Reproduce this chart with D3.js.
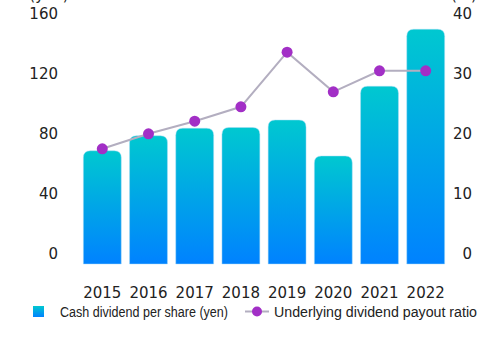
<!DOCTYPE html>
<html>
<head>
<meta charset="utf-8">
<script src="https://cdn.jsdelivr.net/npm/d3@7.9.0/dist/d3.min.js"></script>
<style>
  html, body { margin: 0; padding: 0; background: #fff; }
  svg { display: block; }
  .tick-label { font-family: "DejaVu Sans", sans-serif; font-size: 15px; fill: #222; }
  .legend-label { font-family: "Liberation Sans", sans-serif; font-size: 14px; fill: #222; }
</style>
</head>
<body>
<svg id="chart" width="502" height="339"></svg>
<script>
// Data
const years = ['2015', '2016', '2017', '2018', '2019', '2020', '2021', '2022'];
const dividend = [75.5, 85.5, 90.5, 91, 96, 72, 118.5, 156.5];   // yen
const payout = [19.2, 21.7, 23.8, 26.2, 35.3, 28.7, 32.2, 32.2];  // %
const leftTicks = [0, 40, 80, 120, 160];
const rightTicks = [0, 10, 20, 30, 40];

const svg = d3.select('#chart');

// gradient for bars
const defs = svg.append('defs');
const grad = defs.append('linearGradient')
  .attr('id', 'barGrad')
  .attr('x1', 0).attr('y1', 0).attr('x2', 0).attr('y2', 1);
grad.append('stop').attr('offset', '0%').attr('stop-color', '#00c8d0');
grad.append('stop').attr('offset', '100%').attr('stop-color', '#0082ff');

// scales
const x = d3.scaleBand()
  .domain(years)
  .range([79.2, 448.8])
  .paddingInner(0.18)
  .paddingOuter(0.09);

const y = d3.scaleLinear().domain([0, 160]).range([264, 24]);
const y2 = d3.scaleLinear().domain([0, 40]).range([264, 24]);

// bars with rounded tops
function topRounded(x0, y0, w, h, r) {
  r = Math.min(r, h, w / 2);
  return `M${x0},${y0 + h}V${y0 + r}Q${x0},${y0} ${x0 + r},${y0}` +
         `H${x0 + w - r}Q${x0 + w},${y0} ${x0 + w},${y0 + r}V${y0 + h}Z`;
}

svg.append('g')
  .selectAll('path')
  .data(dividend)
  .join('path')
  .attr('d', (d, i) => topRounded(x(years[i]), y(d), x.bandwidth(), y(0) - y(d), 7))
  .attr('fill', 'url(#barGrad)')
  .attr('stroke', '#a8dcf4')
  .attr('stroke-opacity', 0.6)
  .attr('stroke-width', 0.8);

// payout line
const cx = (i) => x(years[i]) + x.bandwidth() / 2;
const line = d3.line()
  .x((d, i) => cx(i))
  .y((d) => y2(d));

svg.append('path')
  .datum(payout)
  .attr('d', line)
  .attr('fill', 'none')
  .attr('stroke', '#b3aec0')
  .attr('stroke-width', 2);

svg.append('g')
  .selectAll('circle')
  .data(payout)
  .join('circle')
  .attr('cx', (d, i) => cx(i))
  .attr('cy', (d) => y2(d))
  .attr('r', 5.5)
  .attr('fill', '#a22fc6');

// left axis labels (sit a bit above their values)
svg.append('g')
  .selectAll('text')
  .data(leftTicks)
  .join('text')
  .attr('class', 'tick-label')
  .attr('x', 58)
  .attr('y', (d) => y(d) - 10)
  .attr('dy', '0.35em')
  .attr('text-anchor', 'end')
  .text((d) => d);

// right axis labels
svg.append('g')
  .selectAll('text')
  .data(rightTicks)
  .join('text')
  .attr('class', 'tick-label')
  .attr('x', 472)
  .attr('y', (d) => y2(d) - 10)
  .attr('dy', '0.35em')
  .attr('text-anchor', 'end')
  .text((d) => d);

// unit labels, partly above the top edge as in the original
svg.append('text').attr('class', 'tick-label')
  .attr('x', 49).attr('y', 0).attr('text-anchor', 'middle').text('(yen)');
svg.append('text').attr('class', 'tick-label')
  .attr('x', 464).attr('y', 0).attr('text-anchor', 'middle').text('(%)');

// x labels
svg.append('g')
  .selectAll('text')
  .data(years)
  .join('text')
  .attr('class', 'tick-label')
  .attr('x', (d) => x(d) + x.bandwidth() / 2)
  .attr('y', 293)
  .attr('dy', '0.35em')
  .attr('text-anchor', 'middle')
  .text((d) => d);

// legend (condensed type, squeezed to width)
const legend = svg.append('g');
legend.append('rect')
  .attr('x', 33).attr('y', 306)
  .attr('width', 11).attr('height', 11)
  .attr('fill', 'url(#barGrad)');
legend.append('text')
  .attr('class', 'legend-label')
  .attr('x', 60).attr('y', 312).attr('dy', '0.35em')
  .attr('textLength', 168)
  .attr('lengthAdjust', 'spacingAndGlyphs')
  .text('Cash dividend per share (yen)');

legend.append('line')
  .attr('x1', 245).attr('x2', 269)
  .attr('y1', 311.5).attr('y2', 311.5)
  .attr('stroke', '#b3aec0')
  .attr('stroke-width', 2);
legend.append('circle')
  .attr('cx', 257).attr('cy', 311.5).attr('r', 5)
  .attr('fill', '#a22fc6');
legend.append('text')
  .attr('class', 'legend-label')
  .attr('x', 274).attr('y', 312).attr('dy', '0.35em')
  .attr('textLength', 203)
  .attr('lengthAdjust', 'spacingAndGlyphs')
  .text('Underlying dividend payout ratio');
</script>
</body>
</html>
